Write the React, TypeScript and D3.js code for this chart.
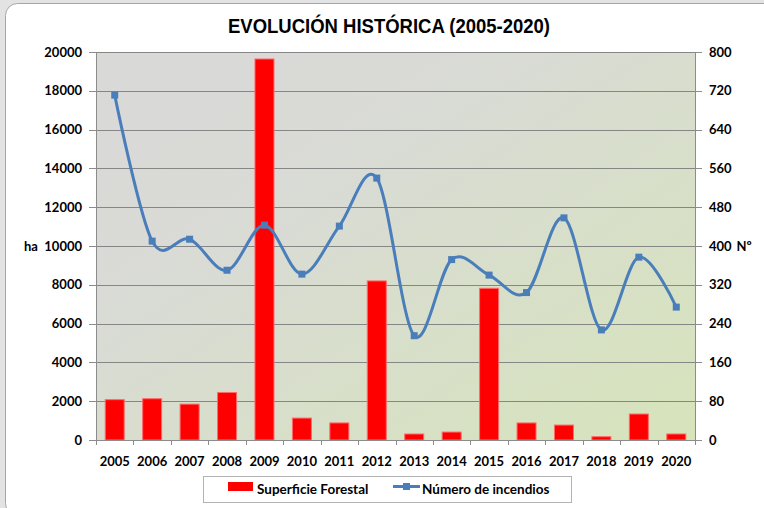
import React from "react";
import * as d3 from "d3";

const years = ["2005","2006","2007","2008","2009","2010","2011","2012","2013","2014","2015","2016","2017","2018","2019","2020"];
const superficie = [2080, 2130, 1850, 2450, 19640, 1130, 880, 8200, 310, 410, 7820, 880, 770, 170, 1340, 310];
const incendios = [711, 410, 414, 350, 443, 342, 441, 540, 215, 372, 340, 304, 458, 227, 377, 274];
const leftTicks = [0, 2000, 4000, 6000, 8000, 10000, 12000, 14000, 16000, 18000, 20000];
const rightTicks = [0, 80, 160, 240, 320, 400, 480, 560, 640, 720, 800];

const W = 764, H = 508;
const plot = { left: 96, right: 695, top: 52, bottom: 440 };
const FONT = "Lato, 'Open Sans', sans-serif";

export default function App() {
  const x = d3.scaleBand().domain(years).range([plot.left, plot.right]).paddingInner(0).paddingOuter(0);
  const yL = d3.scaleLinear().domain([0, 20000]).range([plot.bottom, plot.top]);
  const yR = d3.scaleLinear().domain([0, 800]).range([plot.bottom, plot.top]);
  const barW = 19;
  const cx = (y: string) => (x(y) as number) + x.bandwidth() / 2;
  const line = d3.line<number>().x((_, i) => cx(years[i])).y(d => yR(d)).curve(d3.curveCardinal.tension(0));
  const blue = "#4a7ebb";
  return (
    <div style={{ position: "fixed", left: 0, top: 0 }}>
      <svg width={W} height={H} style={{ display: "block" }}>
        <defs>
          <linearGradient id="bg" x1="0" y1="0" x2="1" y2="1">
            <stop offset="0" stopColor="#d9d9d9" />
            <stop offset="0.35" stopColor="#d9dbd5" />
            <stop offset="1" stopColor="#d6e4bb" />
          </linearGradient>
        </defs>
        <rect x={0} y={0} width={W} height={H} fill="#e3e3e3" />
        <rect x={5.5} y={3.5} width={800} height={512} rx={12} fill="#ffffff" stroke="#a6a6a6" strokeWidth={1} />
        <text x={389} y={33} textAnchor="middle" fontFamily="'Liberation Sans', Arial, sans-serif" fontWeight="bold" fontSize={20} textLength={322} lengthAdjust="spacingAndGlyphs" fill="#000">EVOLUCIÓN HISTÓRICA (2005-2020)</text>
        <rect x={plot.left} y={plot.top} width={plot.right - plot.left} height={plot.bottom - plot.top} fill="url(#bg)" />
        {leftTicks.map(t => (
          <line key={"g" + t} x1={plot.left} x2={plot.right} y1={Math.round(yL(t)) + 0.5} y2={Math.round(yL(t)) + 0.5} stroke="#868686" strokeWidth={1} />
        ))}
        <line x1={plot.left + 0.5} x2={plot.left + 0.5} y1={plot.top} y2={plot.bottom} stroke="#8c8c8c" />
        <line x1={plot.right + 0.5} x2={plot.right + 0.5} y1={plot.top} y2={plot.bottom} stroke="#8c8c8c" />
        {leftTicks.map(t => (
          <g key={"l" + t}>
            <line x1={plot.left - 7} x2={plot.left} y1={Math.round(yL(t)) + 0.5} y2={Math.round(yL(t)) + 0.5} stroke="#8c8c8c" />
            <text x={82} y={yL(t) + 4.5} textAnchor="end" fontFamily={FONT} fontWeight="bold" fontSize={13}>{t}</text>
          </g>
        ))}
        {rightTicks.map(t => (
          <g key={"r" + t}>
            <line x1={plot.right} x2={plot.right + 7} y1={Math.round(yR(t)) + 0.5} y2={Math.round(yR(t)) + 0.5} stroke="#8c8c8c" />
            <text x={709} y={yR(t) + 4.5} textAnchor="start" fontFamily={FONT} fontWeight="bold" fontSize={13}>{t}</text>
          </g>
        ))}
        {years.map((yr, i) => (
          <g key={"x" + yr}>
            <line x1={Math.round(x(yr) as number) + 0.5} x2={Math.round(x(yr) as number) + 0.5} y1={plot.bottom} y2={plot.bottom + 5} stroke="#8c8c8c" />
            <text x={cx(yr)} y={466} textAnchor="middle" fontFamily={FONT} fontWeight="bold" fontSize={13}>{yr}</text>
          </g>
        ))}
        <line x1={plot.right + 0.5} x2={plot.right + 0.5} y1={plot.bottom} y2={plot.bottom + 5} stroke="#8c8c8c" />
        <text x={31} y={251} textAnchor="middle" fontFamily={FONT} fontWeight="bold" fontSize={13}>ha</text>
        <text x={744} y={251} textAnchor="middle" fontFamily={FONT} fontWeight="bold" fontSize={13}>Nº</text>
        {superficie.map((v, i) => (
          <rect key={"b" + i} x={cx(years[i]) - barW / 2} y={yL(v)} width={barW} height={plot.bottom - yL(v)} fill="#ff0000" stroke="#ff6b6b" strokeWidth={1} />
        ))}
        <path d={line(incendios) || ""} fill="none" stroke={blue} strokeWidth={3} />
        {incendios.map((v, i) => (
          <rect key={"m" + i} x={cx(years[i]) - 3.5} y={yR(v) - 3.5} width={7} height={7} fill={blue} />
        ))}
        <line x1={96} x2={695} y1={plot.bottom + 0.5} y2={plot.bottom + 0.5} stroke="#8c8c8c" />
        <rect x={203.5} y={476.5} width={368} height={26} fill="#fff" stroke="#b3b3b3" />
        <rect x={228} y={482} width={25} height={9} fill="#ff0000" />
        <text x={257} y={494} fontFamily={FONT} fontWeight="bold" fontSize={13.5}>Superficie Forestal</text>
        <line x1={393} x2={420} y1={486.5} y2={486.5} stroke={blue} strokeWidth={3} />
        <rect x={403} y={483} width={7} height={7} fill={blue} />
        <text x={422} y={494} fontFamily={FONT} fontWeight="bold" fontSize={13.5}>Número de incendios</text>
      </svg>
    </div>
  );
}
